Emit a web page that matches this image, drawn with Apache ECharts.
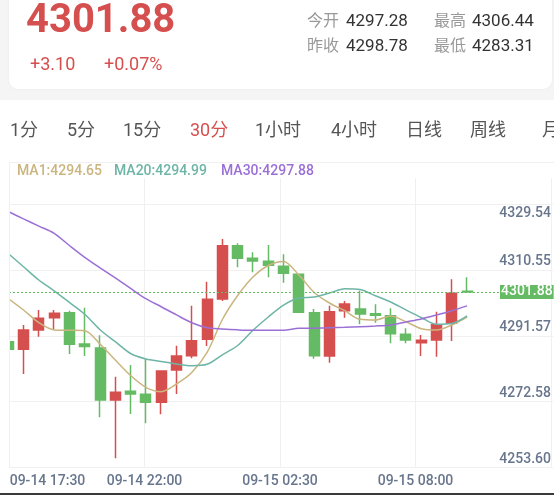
<!DOCTYPE html>
<html><head><meta charset="utf-8">
<script src="https://cdn.jsdelivr.net/npm/echarts@6/dist/echarts.min.js"></script>
<style>html,body{margin:0;padding:0;background:#fff}#c{width:554px;height:495px}</style>
</head><body><div id="c"></div>
<script>
// ---- data ----
const times = ['09-14 17:30','09-14 18:00','09-14 18:30','09-14 19:00','09-14 19:30','09-14 20:00','09-14 20:30','09-14 21:00','09-14 21:30','09-14 22:00','09-14 22:30','09-14 23:00','09-14 23:30','09-15 00:00','09-15 00:30','09-15 01:00','09-15 01:30','09-15 02:00','09-15 02:30','09-15 03:00','09-15 03:30','09-15 04:00','09-15 04:30','09-15 05:00','09-15 05:30','09-15 07:00','09-15 07:30','09-15 08:00','09-15 08:30','09-15 09:00','09-15 09:30'];
const openP  = [4287.55,4285.36,4290.92,4294.46,4295.91,4286.89,4285.73,4270.75,4273.25,4272.39,4270.08,4279.39,4283.51,4288.24,4299.85,4315.21,4311.58,4310.72,4309.28,4306.97,4295.91,4283.43,4296.48,4296.97,4295.62,4295.04,4289.68,4287.26,4288.04,4292.85,4302.10];
const closeP = [4285.36,4290.92,4294.29,4295.73,4286.80,4286.16,4270.75,4272.97,4272.48,4270.08,4279.10,4283.43,4287.84,4299.77,4315.21,4311.58,4310.80,4309.57,4307.26,4296.02,4283.51,4296.19,4298.41,4295.53,4295.16,4289.85,4288.04,4287.95,4292.45,4301.50,4301.88];
const lowP   = [4284.80,4278.24,4288.99,4291.12,4284.00,4283.43,4265.76,4253.95,4266.71,4264.03,4266.63,4272.48,4282.76,4286.31,4299.28,4308.99,4307.55,4306.11,4304.55,4295.80,4282.65,4281.50,4294.46,4292.56,4293.02,4287.09,4287.09,4283.43,4283.23,4287.75,4301.88];
const highP  = [4288.20,4292.36,4296.68,4296.68,4296.48,4297.35,4289.39,4277.46,4280.83,4282.56,4279.30,4286.40,4297.92,4304.84,4317.14,4315.91,4313.31,4315.42,4312.74,4307.20,4296.97,4297.92,4299.28,4302.25,4298.33,4297.17,4291.41,4289.48,4296.19,4305.53,4306.11];
const ma1  = [4300.00,4296.68,4293.02,4290.92,4290.83,4290.72,4286.89,4282.27,4277.81,4274.41,4273.14,4275.36,4278.67,4284.44,4293.95,4300.86,4306.19,4309.51,4310.66,4306.77,4301.73,4298.70,4296.48,4294.00,4293.80,4294.95,4293.31,4291.30,4290.92,4292.36,4294.65];
const ma20 = [4312.97,4309.16,4305.33,4302.22,4298.87,4295.47,4291.01,4287.55,4284.15,4282.56,4281.84,4281.12,4280.63,4281.04,4283.77,4286.45,4290.83,4294.67,4298.10,4300.14,4300.43,4301.58,4302.82,4302.59,4300.78,4298.99,4296.71,4294.52,4292.56,4292.79,4294.99];
const ma30 = [4325.07,4322.94,4320.86,4318.79,4315.27,4311.87,4308.84,4305.91,4302.91,4299.94,4297.63,4295.27,4293.02,4291.58,4291.21,4290.96,4290.82,4290.82,4290.82,4291.41,4291.45,4291.58,4291.70,4291.87,4292.07,4292.36,4293.23,4294.09,4295.24,4296.48,4297.88];
const yTickLabels = ['4253.60','4272.58','4291.57','4310.55','4329.54'];
const xLabelIndex = [0, 9, 18, 27];
const lastPrice = 4301.88;
const quote = ['4301.88', '+3.10', '+0.07%'];
const statNames = ['今开', '最高', '昨收', '最低'];
const statValues = ['4297.28', '4306.44', '4298.78', '4283.31'];
const tabs = ['1分', '5分', '15分', '30分', '1小时', '4小时', '日线', '周线', '月'];
const activeTab = '30分';

// ---- style ----
const RED = '#d64f4f', GREEN = '#64bb64';
const C1 = '#cbb57f', C20 = '#6db5a6', C30 = '#9b70d6';
const FF = 'Roboto, "Noto Sans CJK SC", sans-serif';
const GRIDC = '#f0f0f0';
const AXC = '#67758d';

const candles = times.map((t, i) => [i, openP[i], closeP[i], lowP[i], highP[i]]);
const xLabels = xLabelIndex.map(i => times[i]).concat(['']);

function txt(text, x, y, size, color, opts) {
  return {
    type: 'text', z: 100,
    style: Object.assign({ text: text, x: x, y: y, fill: color, fontSize: size, fontFamily: FF,
      textVerticalAlign: 'middle', textAlign: 'left' }, opts || {})
  };
}
const graphics = [
  { type: 'rect', z: 1, shape: { x: 0, y: 0, width: 554, height: 100 }, style: { fill: '#f5f5f5' } },
  { type: 'rect', z: 2, shape: { x: 9, y: -10, width: 543, height: 99, r: [0, 0, 9, 9] },
    style: { fill: '#fff', shadowBlur: 4, shadowColor: 'rgba(0,0,0,0.04)' } },
  // white margin left of the plot area (plot starts at x=9)
  { type: 'rect', z: 50, shape: { x: 0, y: 178, width: 9, height: 290 }, style: { fill: '#fff' } },
  txt(quote[0], 26, 22, 40, RED, { fontWeight: 'bold' }),
  txt(quote[1], 30, 65, 18, RED),
  txt(quote[2], 104, 65, 18, RED),
  txt(statNames[0], 307, 22, 16, '#999'),
  txt(statValues[0], 346, 22, 17, '#333'),
  txt(statNames[1], 434, 22, 16, '#999'),
  txt(statValues[1], 472, 22, 17, '#333'),
  txt(statNames[2], 307, 47, 16, '#999'),
  txt(statValues[2], 346, 47, 17, '#333'),
  txt(statNames[3], 434, 47, 16, '#999'),
  txt(statValues[3], 472, 47, 17, '#333'),
  { type: 'line', z: 5, shape: { x1: 9, y1: 162.5, x2: 554, y2: 162.5 }, style: { stroke: GRIDC, lineWidth: 1 } },
  { type: 'line', z: 60, shape: { x1: 9.5, y1: 162, x2: 9.5, y2: 468 }, style: { stroke: GRIDC, lineWidth: 1 } },
  txt('MA1:' + ma1[ma1.length - 1].toFixed(2), 17, 171, 14, C1, { fontWeight: 500 }),
  txt('MA20:' + ma20[ma20.length - 1].toFixed(2), 114, 171, 14, C20, { fontWeight: 500 }),
  txt('MA30:' + ma30[ma30.length - 1].toFixed(2), 221, 171, 14, C30, { fontWeight: 500 }),
  { type: 'rect', z: 100, shape: { x: 0, y: 493, width: 554, height: 2 }, style: { fill: '#3a3a3a' } }
];
const tabX = [10, 67, 123, 190, 255, 331, 406, 470, 542];
tabs.forEach((t, i) => graphics.push(txt(t, tabX[i], 131, 18, t === activeTab ? RED : '#555')));

const chart = echarts.init(document.getElementById('c'), null, { renderer: 'canvas' });
chart.setOption({
  animation: false,
  backgroundColor: '#fff',
  textStyle: { fontFamily: FF },
  grid: [
    { left: 9, top: 196, width: 492, height: 263.5 },
    { left: 9, top: 178, width: 544, height: 289.5 },
    { left: 9, top: 204, width: 544, height: 263.5 }
  ],
  xAxis: [
    { gridIndex: 0, type: 'value', min: 0.05, max: 32.15, show: false },
    { gridIndex: 1, type: 'category', data: xLabels, boundaryGap: false,
      axisLine: { show: false }, axisTick: { show: false },
      splitLine: { show: true, lineStyle: { color: GRIDC, width: 1 } },
      axisLabel: { interval: 0, color: AXC, fontSize: 14, fontWeight: 500, margin: 7, fontFamily: FF,
        formatter: (v, i) => i === 0 ? '{first|' + v + '}' : v,
        rich: { first: { padding: [0, 0, 0, 77], color: AXC, fontSize: 14, fontWeight: 500, fontFamily: FF } } } },
    { gridIndex: 2, type: 'value', min: 0, max: 1, show: false }
  ],
  yAxis: [
    { gridIndex: 0, type: 'value', position: 'right', min: 4253.60, max: 4329.54, interval: 18.985,
      axisLine: { show: false }, axisTick: { show: false }, splitLine: { show: false },
      axisLabel: { color: AXC, fontSize: 14, fontWeight: 500, margin: 51, align: 'right', lineHeight: 17, fontFamily: FF,
        formatter: (v) => {
          let idx = 0, best = Infinity;
          yTickLabels.forEach((s, j) => { const d = Math.abs(parseFloat(s) - v); if (d < best) { best = d; idx = j; } });
          return idx === yTickLabels.length - 1 ? '\n\n' + yTickLabels[idx] : yTickLabels[idx];
        } } },
    { gridIndex: 1, type: 'value', min: 0, max: 1, show: false },
    { gridIndex: 2, type: 'value', min: 0, max: 4, interval: 1,
      axisLine: { show: false }, axisTick: { show: false }, axisLabel: { show: false },
      splitLine: { show: true, lineStyle: { color: GRIDC, width: 1 } } }
  ],
  graphic: graphics,
  series: [
    { type: 'candlestick', xAxisIndex: 0, yAxisIndex: 0, data: candles,
      encode: { x: 0, y: [1, 2, 3, 4] }, barWidth: 10.5, clip: true,
      itemStyle: { color: RED, color0: GREEN, borderColor: RED, borderColor0: GREEN, borderWidth: 1.5 },
      markLine: { symbol: 'none', silent: true, animation: false,
        lineStyle: { color: GREEN, type: [2, 2], width: 1 },
        label: { show: true, position: 'end', distance: 0, color: '#fff', backgroundColor: GREEN,
          fontSize: 14, fontWeight: 500, fontFamily: FF, padding: [0, 1, 0, 1], formatter: () => lastPrice.toFixed(2) },
        data: [{ yAxis: lastPrice }] } },
    { type: 'line', name: 'MA1', data: ma1.map((v, i) => [i, v]), xAxisIndex: 0, yAxisIndex: 0,
      smooth: 0.3, symbol: 'none', lineStyle: { color: C1, width: 1.5 }, clip: true },
    { type: 'line', name: 'MA20', data: ma20.map((v, i) => [i, v]), xAxisIndex: 0, yAxisIndex: 0,
      smooth: 0.3, symbol: 'none', lineStyle: { color: C20, width: 1.5 }, clip: true },
    { type: 'line', name: 'MA30', data: ma30.map((v, i) => [i, v]), xAxisIndex: 0, yAxisIndex: 0,
      smooth: 0.3, symbol: 'none', lineStyle: { color: C30, width: 1.5 }, clip: true }
  ]
});
</script></body></html>
